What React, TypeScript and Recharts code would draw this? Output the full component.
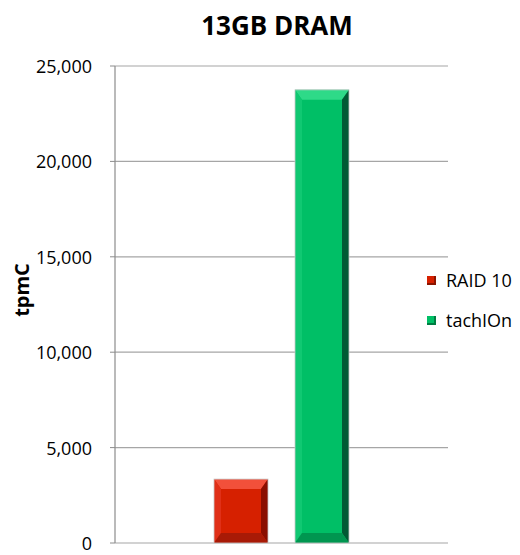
import React from 'react';
import { BarChart, Bar, XAxis, YAxis, CartesianGrid } from 'recharts';

const categories = ['13GB DRAM'];
const raid10 = [3350];
const tachion = [23750];
const yTicks = [0, 5000, 10000, 15000, 20000, 25000];
const seriesNames = ['RAID 10', 'tachIOn'];
const title = '13GB DRAM';
const yLabel = 'tpmC';

const data = categories.map((c, i) => ({ cat: c, raid: raid10[i], tach: tachion[i] }));

const FONT = '"Open Sans", sans-serif';

const palettes: Record<string, { base: string; top: string; left: string; right: string; bottom: string }> = {
  red: { base: '#D62000', top: '#F2503A', left: '#E03018', right: '#8A0E00', bottom: '#A81A06' },
  green: { base: '#00BF66', top: '#2EDA88', left: '#10C872', right: '#005A34', bottom: '#009650' },
};

const bevelShape = (pal: string) => (props: any) => {
  const { x, y, width: w, height: h } = props;
  if (!h || h <= 0) return null;
  const p = palettes[pal];
  const bt = Math.min(10, h / 2);
  const bs = Math.min(7, w / 2);
  return (
    <g>
      <rect x={x} y={y} width={w} height={h} fill={p.base} />
      <polygon points={`${x},${y} ${x + w},${y} ${x + w - bs},${y + bt} ${x + bs},${y + bt}`} fill={p.top} />
      <polygon points={`${x},${y} ${x + bs},${y + bt} ${x + bs},${y + h - bt} ${x},${y + h}`} fill={p.left} />
      <polygon points={`${x + w},${y} ${x + w - bs},${y + bt} ${x + w - bs},${y + h - bt} ${x + w},${y + h}`} fill={p.right} />
      <polygon points={`${x},${y + h} ${x + bs},${y + h - bt} ${x + w - bs},${y + h - bt} ${x + w},${y + h}`} fill={p.bottom} />
      <rect x={x} y={y} width={w} height={h} fill="none" stroke="#c8c8c8" strokeWidth={0.8} />
    </g>
  );
};

const fmt = (v: number) => v.toLocaleString('en-US');

const YTick = (props: any) => {
  const { x, y, payload } = props;
  return (
    <text x={x} y={y} textAnchor="end" dominantBaseline="central"
      style={{ fontFamily: FONT, fontSize: 18, fill: '#000' }}>
      {fmt(payload.value)}
    </text>
  );
};

const YLabel = () => {
  const cy = 282;
  const cx = 13;
  return (
    <text x={cx} y={cy} transform={`rotate(-90, ${cx}, ${cy})`} textAnchor="middle" dominantBaseline="central"
      style={{ fontFamily: FONT, fontWeight: 700, fontSize: 20, fill: '#000' }}>
      {yLabel}
    </text>
  );
};

const legendColors = ['#D62000', '#00BF66'];

export default function App() {
  return (
    <div style={{ position: 'relative', width: 512, height: 547, fontFamily: FONT }}>
      <div style={{ position: 'absolute', left: 0, width: 538, top: 0, textAlign: 'center', fontWeight: 700, fontSize: 26, lineHeight: '34px', color: '#000' }}>
        {title}
      </div>
      <BarChart width={512} height={547} data={data} margin={{ top: 58, right: 72, bottom: 12, left: 0 }} barSize={54} barGap={27} style={{ overflow: 'visible' }}>
        <CartesianGrid vertical={false} stroke="#a6a6a6" strokeWidth={1.2} />
        <XAxis dataKey="cat" hide />
        <YAxis
          width={107}
          domain={[0, 25000]}
          ticks={yTicks}
          tickSize={5}
          tickMargin={18}
          stroke="#8c8c8c"
          axisLine={{ stroke: '#8c8c8c', strokeWidth: 1.2 }}
          tickLine={{ stroke: '#8c8c8c' }}
          tick={<YTick />}
          label={<YLabel />}
        />
        <Bar dataKey="raid" name={seriesNames[0]} fill="#D62000" shape={bevelShape('red')} isAnimationActive={false} />
        <Bar dataKey="tach" name={seriesNames[1]} fill="#00BF66" shape={bevelShape('green')} isAnimationActive={false} />
      </BarChart>
      <div style={{ position: 'absolute', left: 419, top: 252 }}>
        {seriesNames.map((n, i) => (
          <div key={n} style={{ display: 'flex', alignItems: 'center', height: 40, fontSize: 18, color: '#000' }}>
            <span style={{ display: 'inline-block', width: 9, height: 9, background: legendColors[i], marginRight: 10, boxShadow: 'inset -2px -2px 0 rgba(0,0,0,0.35)' }} />
            <span>{n}</span>
          </div>
        ))}
      </div>
    </div>
  );
}
